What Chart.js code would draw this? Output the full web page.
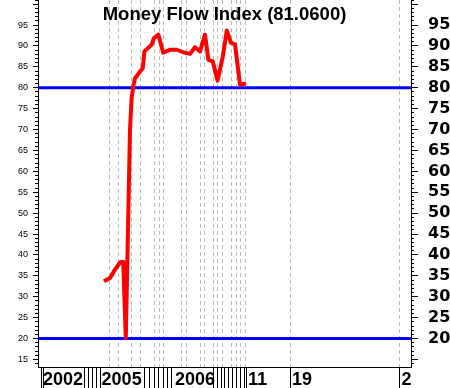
<!DOCTYPE html>
<html>
<head>
<script src="https://cdn.jsdelivr.net/npm/chart.js"></script>
<style>
  body { margin: 0; background: #fff; }
  #wrap { width: 450px; height: 388px; }
</style>
</head>
<body>
<div id="wrap"><canvas id="mfiChart" width="450" height="388"></canvas></div>
<script>
// x is measured in weeks from the left edge of the plot
var weekX = [16.5, 18, 19.25, 20.5, 21.3, 21.95, 23, 23.4, 23.8, 24.25, 24.8, 25.5, 26.2, 26.6, 27.25,
             28.4, 29, 30.1, 31.3, 33, 34.7, 36.3, 38, 39.25, 40.5, 41.75, 42.6, 43.7, 44.9, 46.2,
             47.2, 48.2, 49.25, 50.5, 52];
var mfiValues = [33.7, 34.5, 36.5, 38.2, 38.4, 20.1, 70, 77.5, 80.2, 82.3, 82.9, 83.9, 84.7, 88.7, 89.3,
                 90.3, 91.9, 92.7, 88.4, 89.1, 89.1, 88.5, 88.1, 89.7, 88.7, 92.7, 86.7, 86.3, 81.7, 87.5,
                 93.7, 90.8, 90.4, 80.7, 81.06];

var overbought = 80;
var oversold = 20;

// dashed vertical gridlines inside the plot
var gridWeeks = [17.9, 20.2, 23.4, 25.6, 29.1, 30.3, 31.3, 35.8, 37.1, 40.6, 41.6, 43.8, 44.8, 46.1,
                 48.3, 49.6, 50.6, 51.8, 63.1, 90.4];
// black tick lines under the plot
var tickWeeks = [0.75, 1.3, 11.5, 12.5, 13.5, 14.6, 15.5, 26.5, 27.75, 29.1, 30.2, 31.3, 32.3, 33.25,
                 43.8, 44.8, 45.75, 46.7, 47.7, 48.7, 49.6, 50.5, 51.5, 52.2, 63.1, 90.4];
var labelWeeks = [1.25, 15.9, 34.25, 52.5, 63.5, 90.9];
var dateLabels = ['2002', '2005', '2006', '11', '19', '2'];

var leftLabels = [15, 20, 25, 30, 35, 40, 45, 50, 55, 60, 65, 70, 75, 80, 85, 90, 95];
var rightLabels = [20, 25, 30, 35, 40, 45, 50, 55, 60, 65, 70, 75, 80, 85, 90, 95];
var majorTicks = [15, 20, 25, 30, 35, 40, 45, 50, 55, 60, 65, 70, 75, 80, 85, 90, 95, 100];

var X_MIN = 0, X_MAX = 93.25;
var Y_MIN = 13.2, Y_MAX = 101;

var minorTicks = [];
for (var v = 14; v <= 101; v++) minorTicks.push(v);

var gridSet = new Set(gridWeeks);
var tickSet = new Set(tickWeeks);
var labelMap = new Map();
labelWeeks.forEach(function (w, i) { labelMap.set(w, dateLabels[i]); });
var allX = Array.from(new Set(gridWeeks.concat(tickWeeks, labelWeeks))).sort(function (a, b) { return a - b; });

var mfiPoints = weekX.map(function (x, i) { return { x: x, y: mfiValues[i] }; });
var titleText = 'Money Flow Index (' + mfiValues[mfiValues.length - 1].toFixed(4) + ')';

var titlePlugin = {
  id: 'mfiTitle',
  afterDraw: function (chart) {
    var ctx = chart.ctx, area = chart.chartArea;
    ctx.save();
    ctx.font = 'bold 18.5px "Liberation Sans", Arial, sans-serif';
    ctx.fillStyle = '#000';
    ctx.textAlign = 'center';
    ctx.textBaseline = 'alphabetic';
    ctx.fillText(titleText, (area.left + area.right) / 2, 20);
    ctx.restore();
  }
};

function setTicks(list) {
  return function (axis) { axis.ticks = list.map(function (v) { return { value: v }; }); };
}
// fixed axis size, and no extra room for the end labels
function noPad(axis) {
  axis.paddingTop = 0; axis.paddingBottom = 0; axis.paddingLeft = 0; axis.paddingRight = 0;
}
function fixWidth(w) { return function (axis) { axis.width = w; noPad(axis); }; }

new Chart(document.getElementById('mfiChart'), {
  type: 'line',
  data: {
    datasets: [
      {
        data: mfiPoints,
        borderColor: '#ff0000',
        borderWidth: 4,
        borderJoinStyle: 'round',
        pointRadius: 0,
        tension: 0,
        order: 0
      },
      {
        data: [{ x: X_MIN, y: overbought }, { x: X_MAX, y: overbought }],
        borderColor: '#0000ff',
        borderWidth: 3,
        pointRadius: 0,
        order: 1
      },
      {
        data: [{ x: X_MIN, y: oversold }, { x: X_MAX, y: oversold }],
        borderColor: '#0000ff',
        borderWidth: 3,
        pointRadius: 0,
        order: 1
      }
    ]
  },
  options: {
    responsive: false,
    animation: false,
    layout: { padding: 0 },
    plugins: { legend: { display: false }, tooltip: { enabled: false } },
    scales: {
      x: {
        type: 'linear',
        position: 'bottom',
        min: X_MIN,
        max: X_MAX,
        afterBuildTicks: setTicks(allX),
        afterFit: function (axis) { axis.height = 21; noPad(axis); },
        grid: {
          color: function (c) { return c.tick && gridSet.has(c.tick.value) ? '#bdbdbd' : 'rgba(0,0,0,0)'; },
          tickColor: function (c) { return c.tick && tickSet.has(c.tick.value) ? '#000' : 'rgba(0,0,0,0)'; },
          lineWidth: 1,
          tickWidth: 1,
          tickLength: 21,
          tickBorderDash: []
        },
        border: { display: true, color: '#000', width: 1, dash: [4, 3] },
        ticks: {
          autoSkip: false,
          maxRotation: 0,
          align: 'start',
          padding: -19,
          color: '#000',
          font: { family: '"Liberation Sans", Arial, sans-serif', size: 18, weight: 'bold' },
          callback: function (value) { return labelMap.has(value) ? labelMap.get(value) : ''; }
        }
      },
      y: {
        type: 'linear',
        position: 'left',
        weight: 1,
        min: Y_MIN,
        max: Y_MAX,
        afterBuildTicks: setTicks(majorTicks),
        afterFit: fixWidth(38),
        grid: { drawOnChartArea: false, tickLength: 5, tickColor: '#000' },
        border: { display: true, color: '#000', width: 1 },
        ticks: {
          autoSkip: false,
          padding: 5,
          color: '#000',
          font: { family: '"Liberation Sans", Arial, sans-serif', size: 9 },
          callback: function (value) { return leftLabels.indexOf(value) >= 0 ? String(value) : ''; }
        }
      },
      yLeftMinor: {
        type: 'linear',
        position: 'left',
        weight: 0,
        min: Y_MIN,
        max: Y_MAX,
        afterBuildTicks: setTicks(minorTicks),
        afterFit: fixWidth(0),
        grid: { drawOnChartArea: false, tickLength: 3, tickColor: '#000' },
        border: { display: false },
        ticks: { display: false, autoSkip: false }
      },
      yRight: {
        type: 'linear',
        position: 'right',
        weight: 1,
        min: Y_MIN,
        max: Y_MAX,
        afterBuildTicks: setTicks(majorTicks),
        afterFit: fixWidth(39),
        grid: { drawOnChartArea: false, tickLength: 7, tickColor: '#000' },
        border: { display: true, color: '#000', width: 1 },
        ticks: {
          autoSkip: false,
          padding: 10,
          color: '#000',
          font: { family: '"DejaVu Sans", sans-serif', size: 16, weight: 'bold' },
          callback: function (value) { return rightLabels.indexOf(value) >= 0 ? String(value) : ''; }
        }
      },
      yRightMinor: {
        type: 'linear',
        position: 'right',
        weight: 0,
        min: Y_MIN,
        max: Y_MAX,
        afterBuildTicks: setTicks(minorTicks),
        afterFit: fixWidth(0),
        grid: { drawOnChartArea: false, tickLength: 3, tickColor: '#000' },
        border: { display: false },
        ticks: { display: false, autoSkip: false }
      }
    }
  },
  plugins: [titlePlugin]
});
</script>
</body>
</html>
